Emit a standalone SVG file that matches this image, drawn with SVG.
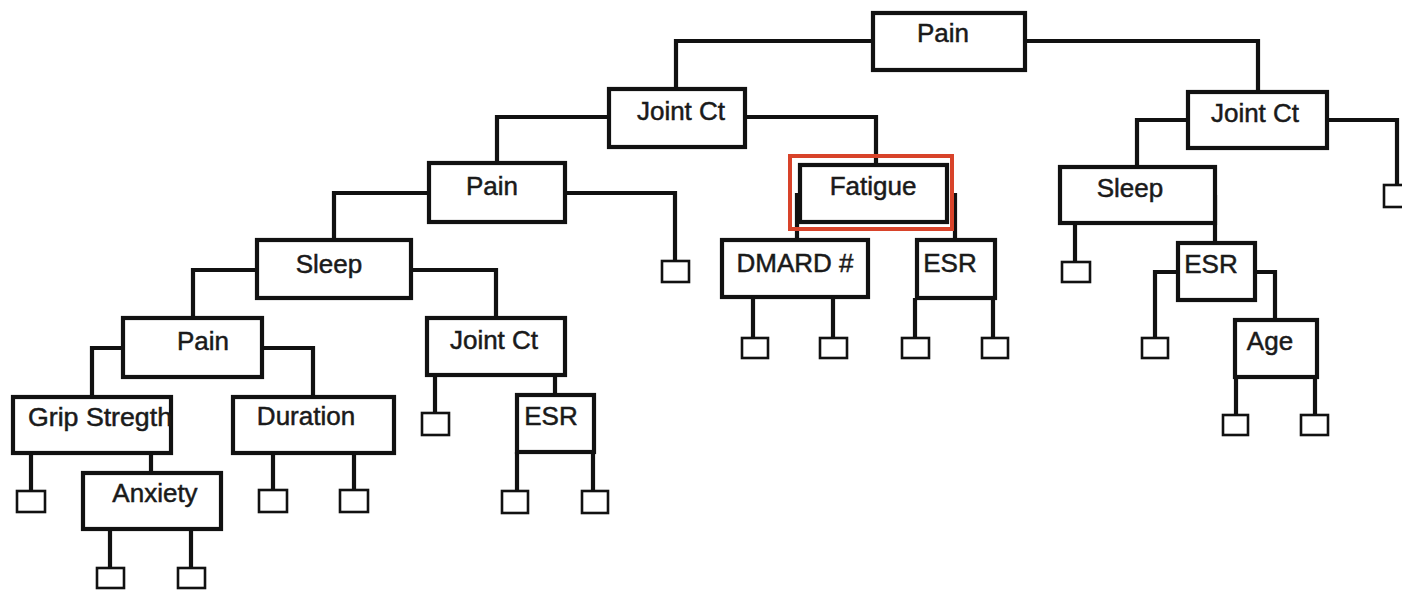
<svg xmlns="http://www.w3.org/2000/svg" width="1402" height="590" viewBox="0 0 1402 590">
<style>
.box{fill:#fff;stroke:#111;stroke-width:4.2}
.leaf{fill:#fff;stroke:#111;stroke-width:2.6}
.ln{fill:none;stroke:#111;stroke-width:4.2;stroke-linejoin:miter}
.t{font-family:"Liberation Sans",Arial,sans-serif;font-size:26px;fill:#1a1a1a;stroke:#1a1a1a;stroke-width:0.5;text-anchor:middle}
.hl{fill:none;stroke:#d8432a;stroke-width:4}
</style>
<rect width="1402" height="590" fill="#fff"/>
<g id="connectors">
<path class="ln" d="M873,41 H676 V89"/>
<path class="ln" d="M1025,41 H1258 V92"/>
<path class="ln" d="M609,117 H497 V163"/>
<path class="ln" d="M745,117 H876 V165"/>
<path class="ln" d="M429,193 H675 V261"/>
<path class="ln" d="M429,193 H334 V240"/>
<path class="ln" d="M257,270 H193 V318"/>
<path class="ln" d="M411,270 H496 V318"/>
<path class="ln" d="M123,348 H92 V397"/>
<path class="ln" d="M262,348 H313 V397"/>
<path class="ln" d="M31,453 V491"/>
<path class="ln" d="M151,453 V473"/>
<path class="ln" d="M110,529 V568 M191,529 V568"/>
<path class="ln" d="M273,453 V490 M354,453 V490"/>
<path class="ln" d="M435,375 V413"/>
<path class="ln" d="M555,375 V395"/>
<path class="ln" d="M517,452 V491 M593,452 V491"/>
<path class="ln" d="M797,193 V240"/>
<path class="ln" d="M955,193 V240"/>
<path class="ln" d="M753,297 V338 M833,297 V338"/>
<path class="ln" d="M915,298 V338 M993,298 V338"/>
<path class="ln" d="M1188,120 H1137 V167"/>
<path class="ln" d="M1327,120 H1397 V185"/>
<path class="ln" d="M1075,223 V262"/>
<path class="ln" d="M1215,195 V243"/>
<path class="ln" d="M1178,272 H1155 V338"/>
<path class="ln" d="M1255,272 H1275 V320"/>
<path class="ln" d="M1236,377 V415 M1315,377 V415"/>
</g>
<g id="n-root"><rect class="box" x="873" y="13" width="152" height="57"/><text class="t" x="943" y="42">Pain</text></g>
<g id="n-jointct-l"><rect class="box" x="609" y="89" width="136" height="58"/><text class="t" x="681" y="120">Joint Ct</text></g>
<g id="n-pain2"><rect class="box" x="429" y="163" width="136" height="59"/><text class="t" x="492" y="195">Pain</text></g>
<g id="n-sleep-l"><rect class="box" x="257" y="240" width="154" height="58"/><text class="t" x="329" y="273">Sleep</text></g>
<g id="n-pain3"><rect class="box" x="123" y="318" width="139" height="59"/><text class="t" x="203" y="350">Pain</text></g>
<g id="n-grip"><rect class="box" x="13" y="397" width="158" height="56"/><text class="t" x="28" y="426" style="text-anchor:start" textLength="144" lengthAdjust="spacingAndGlyphs">Grip Stregth</text></g>
<g id="n-anxiety"><rect class="box" x="83" y="473" width="138" height="56"/><text class="t" x="155" y="502">Anxiety</text></g>
<g id="n-duration"><rect class="box" x="233" y="397" width="161" height="56"/><text class="t" x="306" y="425">Duration</text></g>
<g id="n-jointct2"><rect class="box" x="427" y="318" width="138" height="57"/><text class="t" x="494" y="349">Joint Ct</text></g>
<g id="n-esr2"><rect class="box" x="517" y="395" width="77" height="57"/><text class="t" x="551" y="425">ESR</text></g>
<g id="n-fatigue"><rect class="box" x="800" y="165" width="147" height="57"/><text class="t" x="873" y="195">Fatigue</text><rect class="hl" x="790" y="156" width="162" height="73"/></g>
<g id="n-dmard"><rect class="box" x="722" y="240" width="146" height="57"/><text class="t" x="795" y="272">DMARD #</text></g>
<g id="n-esr"><rect class="box" x="917" y="240" width="78" height="58"/><text class="t" x="950" y="272">ESR</text></g>
<g id="n-jointct-r"><rect class="box" x="1188" y="92" width="139" height="56"/><text class="t" x="1255" y="122">Joint Ct</text></g>
<g id="n-sleep-r"><rect class="box" x="1060" y="167" width="155" height="56"/><text class="t" x="1130" y="197">Sleep</text></g>
<g id="n-esr-r"><rect class="box" x="1178" y="243" width="77" height="57"/><text class="t" x="1211" y="273">ESR</text></g>
<g id="n-age"><rect class="box" x="1235" y="320" width="82" height="57"/><text class="t" x="1270" y="350">Age</text></g>
<g id="leaves">
<rect class="leaf" x="662" y="261" width="27" height="21"/>
<rect class="leaf" x="17" y="491" width="28" height="21"/>
<rect class="leaf" x="97" y="568" width="27" height="20"/>
<rect class="leaf" x="178" y="568" width="27" height="20"/>
<rect class="leaf" x="259" y="490" width="28" height="22"/>
<rect class="leaf" x="340" y="490" width="28" height="22"/>
<rect class="leaf" x="422" y="413" width="27" height="22"/>
<rect class="leaf" x="502" y="491" width="26" height="22"/>
<rect class="leaf" x="582" y="491" width="26" height="22"/>
<rect class="leaf" x="742" y="338" width="26" height="20"/>
<rect class="leaf" x="820" y="338" width="27" height="20"/>
<rect class="leaf" x="902" y="338" width="27" height="20"/>
<rect class="leaf" x="982" y="338" width="26" height="20"/>
<rect class="leaf" x="1384" y="185" width="24" height="22"/>
<rect class="leaf" x="1062" y="262" width="28" height="20"/>
<rect class="leaf" x="1142" y="338" width="26" height="20"/>
<rect class="leaf" x="1223" y="415" width="25" height="20"/>
<rect class="leaf" x="1301" y="415" width="27" height="20"/>
</g>
</svg>
